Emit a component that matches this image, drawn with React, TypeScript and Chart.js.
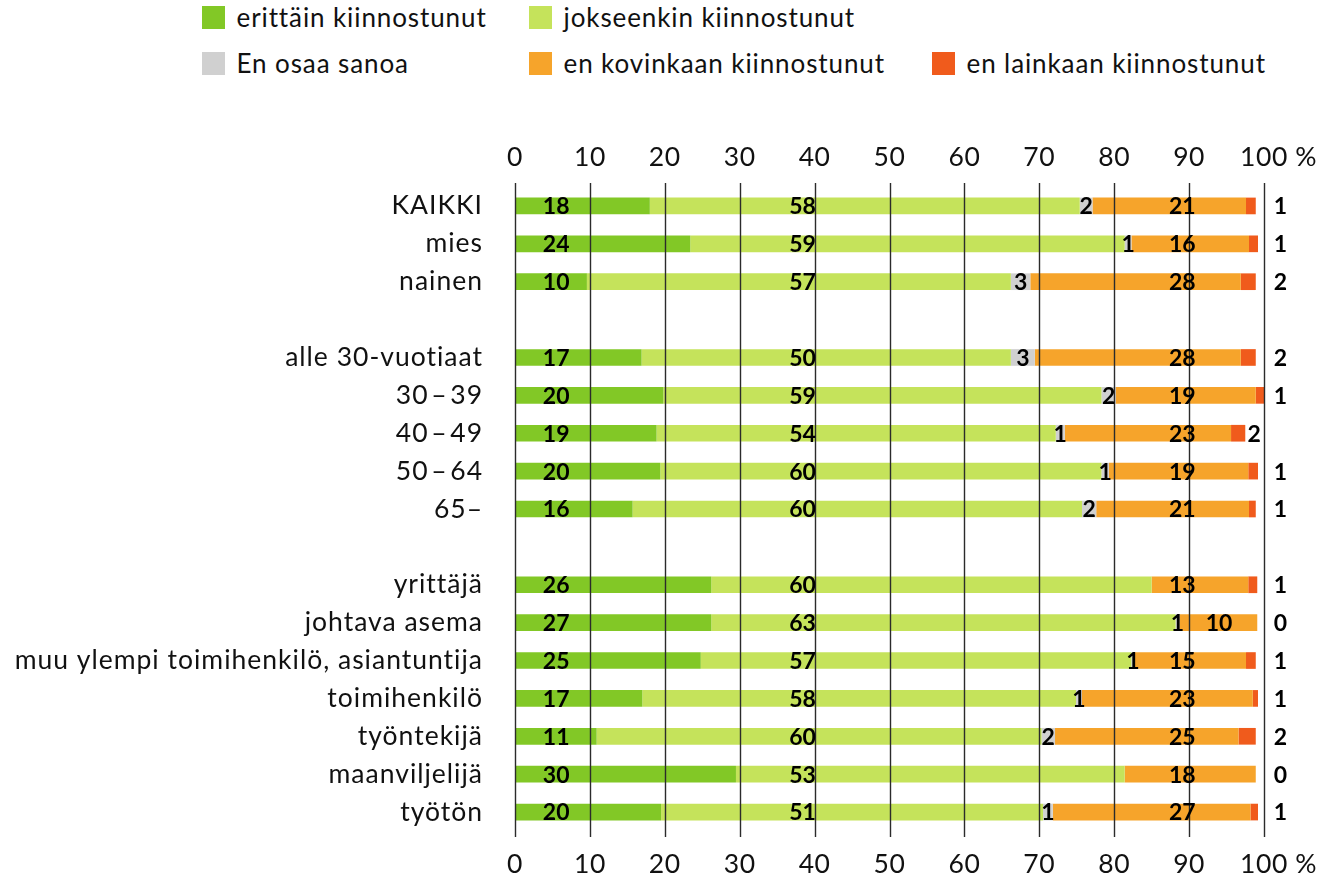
import React, { useEffect, useRef } from "react";
import { Chart, registerables } from "chart.js";

Chart.register(...registerables);

// ---------- data ----------
const categories = [
  "KAIKKI",
  "mies",
  "nainen",
  "",
  "alle 30-vuotiaat",
  "30\u200a–\u200a39",
  "40\u200a–\u200a49",
  "50\u200a–\u200a64",
  "65–",
  "",
  "yrittäjä",
  "johtava asema",
  "muu ylempi toimihenkilö, asiantuntija",
  "toimihenkilö",
  "työntekijä",
  "maanviljelijä",
  "työtön",
];

const seriesNames = [
  "erittäin kiinnostunut",
  "jokseenkin kiinnostunut",
  "En osaa sanoa",
  "en kovinkaan kiinnostunut",
  "en lainkaan kiinnostunut",
];

// bar lengths (%) as drawn
const erittain = [18.0, 23.4, 9.6, null, 16.9, 19.8, 18.9, 19.4, 15.7, null, 26.2, 26.2, 24.8, 17.0, 10.9, 29.5, 19.5];
const jokseenkin = [57.4, 58.0, 56.6, null, 49.3, 58.5, 53.3, 58.9, 60.0, null, 58.8, 62.0, 57.5, 57.9, 59.4, 51.9, 51.0];
const enOsaa = [1.7, 0.9, 2.6, null, 3.2, 1.9, 1.2, 1.0, 1.9, null, 0, 0.5, 0.4, 0.8, 1.8, 0, 1.3];
const enKovinkaan = [20.5, 15.7, 28.1, null, 27.5, 18.7, 22.2, 18.6, 20.4, null, 12.9, 10.4, 14.9, 22.8, 24.5, 17.5, 26.4];
const enLainkaan = [1.3, 1.2, 2.0, null, 2.0, 1.1, 1.9, 1.3, 0.9, null, 1.2, 0, 1.3, 0.7, 2.3, 0, 1.0];

// printed (rounded) values
const erittainLabels = [18, 24, 10, null, 17, 20, 19, 20, 16, null, 26, 27, 25, 17, 11, 30, 20];
const jokseenkinLabels = [58, 59, 57, null, 50, 59, 54, 60, 60, null, 60, 63, 57, 58, 60, 53, 51];
const enOsaaLabels = [2, 1, 3, null, 3, 2, 1, 1, 2, null, null, 1, 1, 1, 2, null, 1];
const enKovinkaanLabels = [21, 16, 28, null, 28, 19, 23, 19, 21, null, 13, 10, 15, 23, 25, 18, 27];
const enLainkaanLabels = [1, 1, 2, null, 2, 1, 2, 1, 1, null, 1, 0, 1, 1, 2, 0, 1];

const xTicks = [0, 10, 20, 30, 40, 50, 60, 70, 80, 90, 100];

const colors = ["#82c826", "#c5e35b", "#d0d0d0", "#f6a42b", "#f05b1c"];

// ---------- style ----------
const FONT = "Lato, 'Noto Sans', sans-serif";

const labelPlugin = {
  id: "customDraw",
  afterDatasetsDraw(chart: any) {
    const { ctx, chartArea, scales } = chart;
    const xs = scales.x;
    const ys = scales.y;

    // vertical grid lines (over bars)
    ctx.save();
    ctx.strokeStyle = "#2b2b2b";
    ctx.lineWidth = 1.4;
    xTicks.forEach((t) => {
      const px = Math.round(xs.getPixelForValue(t)) + 0.5;
      ctx.beginPath();
      ctx.moveTo(px, chartArea.top - 4);
      ctx.lineTo(px, chartArea.bottom + 6);
      ctx.stroke();
    });
    ctx.restore();

    // axis tick labels top & bottom
    ctx.save();
    ctx.fillStyle = "#111";
    ctx.font = `400 26.5px ${FONT}`;
    (ctx as any).letterSpacing = "0.6px";
    ctx.textBaseline = "middle";
    xTicks.forEach((t) => {
      const px = xs.getPixelForValue(t);
      const s = String(t);
      ctx.textAlign = "center";
      ctx.fillText(s, px, 157);
      ctx.fillText(s, px, 864);
      if (t === 100) {
        const w = ctx.measureText(s).width;
        ctx.textAlign = "left";
        ctx.fillText(" %", px + w / 2, 157);
        ctx.fillText(" %", px + w / 2, 864);
      }
    });
    ctx.restore();

    // category labels
    ctx.save();
    ctx.fillStyle = "#111";
    ctx.font = `400 26.5px ${FONT}`;
    (ctx as any).letterSpacing = "1px";
    ctx.textAlign = "right";
    ctx.textBaseline = "middle";
    categories.forEach((c, i) => {
      if (!c) return;
      const py = ys.getPixelForValue(i);
      ctx.fillText(c, 483, py);
    });
    ctx.restore();

    // value labels
    ctx.save();
    ctx.fillStyle = "#000";
    ctx.font = `700 23px ${FONT}`;
    ctx.textAlign = "center";
    ctx.textBaseline = "middle";
    categories.forEach((c, i) => {
      if (!c) return;
      const py = ys.getPixelForValue(i) + 1;
      const draw = (v: number | null, x: number) => {
        if (v === null || v === undefined) return;
        ctx.fillText(String(v), xs.getPixelForValue(x), py);
      };
      draw(erittainLabels[i], 5.5);
      draw(jokseenkinLabels[i], 38.4);
      const start = (erittain[i] as number) + (jokseenkin[i] as number);
      draw(enOsaaLabels[i], start + (enOsaa[i] as number) / 2);
      draw(enKovinkaanLabels[i], c === "johtava asema" ? 94.0 : 89.1);
      const redEnd = start + (enOsaa[i] as number) + (enKovinkaan[i] as number) + (enLainkaan[i] as number);
      draw(enLainkaanLabels[i], redEnd < 98 ? redEnd + 1.2 : 102.2);
    });
    ctx.restore();
  },
};

const legendItems = [
  { name: seriesNames[0], color: colors[0], x: 202, y: 6 },
  { name: seriesNames[1], color: colors[1], x: 529, y: 6 },
  { name: seriesNames[2], color: colors[2], x: 202, y: 52 },
  { name: seriesNames[3], color: colors[3], x: 529, y: 52 },
  { name: seriesNames[4], color: colors[4], x: 932, y: 52 },
];

export default function App() {
  const ref = useRef<HTMLCanvasElement | null>(null);

  useEffect(() => {
    if (!ref.current) return;
    const seriesData = [erittain, jokseenkin, enOsaa, enKovinkaan, enLainkaan];
    const chart = new Chart(ref.current, {
      type: "bar",
      data: {
        labels: categories,
        datasets: seriesData.map((d, k) => ({
          label: seriesNames[k],
          data: d,
          backgroundColor: colors[k],
          borderWidth: 0,
          barPercentage: 0.44,
          categoryPercentage: 1,
        })),
      },
      options: {
        indexAxis: "y",
        responsive: false,
        animation: false,
        layout: { padding: { left: 515, right: 56, top: 187, bottom: 46 } },
        scales: {
          x: { stacked: true, min: 0, max: 100, display: false },
          y: { stacked: true, display: false },
        },
        plugins: {
          legend: { display: false },
          tooltip: { enabled: false },
        },
      },
      plugins: [labelPlugin],
    } as any);
    return () => chart.destroy();
  }, []);

  return (
    <div style={{ position: "absolute", left: 0, top: 0, width: 1320, height: 877, background: "#fff", fontFamily: FONT }}>
      {legendItems.map((it) => (
        <div
          key={it.name}
          style={{ position: "absolute", left: it.x, top: it.y, height: 23, display: "flex", alignItems: "center", whiteSpace: "nowrap" }}
        >
          <div style={{ width: 22.5, height: 22.5, background: it.color, flex: "none" }} />
          <span style={{ marginLeft: 12, fontSize: 26, letterSpacing: "0.9px", color: "#111", lineHeight: "23px" }}>{it.name}</span>
        </div>
      ))}
      <canvas ref={ref} width={1320} height={877} style={{ position: "absolute", left: 0, top: 0 }} />
    </div>
  );
}
